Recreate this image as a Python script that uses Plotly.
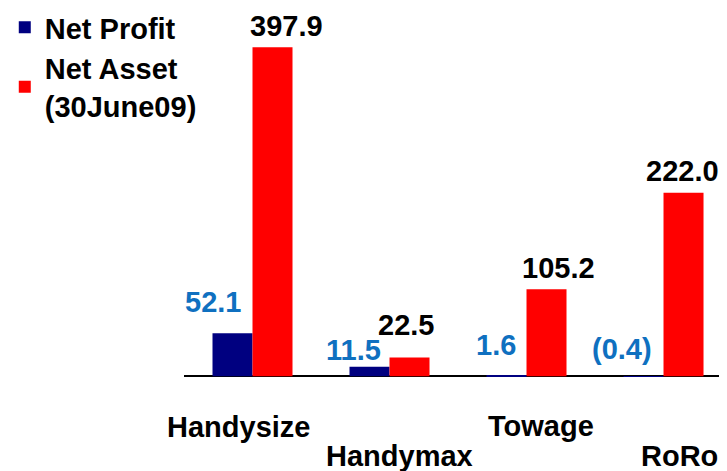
import plotly.graph_objects as go

categories = ["Handysize", "Handymax", "Towage", "RoRo"]
net_profit = [52.1, 11.5, 1.6, -0.4]
net_asset = [397.9, 22.5, 105.2, 222.0]
series_names = ["Net Profit", "Net Asset<br>(30June09)"]

NAVY = "#000080"
RED = "#FF0000"
LABEL_BLUE = "#0F70C0"
FONT = "Liberation Sans, Arial, sans-serif"
FS = 29

def fmt(v):
    return f"({abs(v):.1f})" if v < 0 else f"{v:.1f}"

fig = go.Figure()
fig.add_trace(go.Bar(x=categories, y=net_profit, name=series_names[0],
                     marker=dict(color=NAVY, line=dict(width=0)), legendgroup="a"))
fig.add_trace(go.Bar(x=categories, y=net_asset, name=series_names[1],
                     marker=dict(color=RED, line=dict(width=0)), legendgroup="b"))

annotations = []
# data labels (bar-centre offset +/-20px, then label nudges)
blue_dx = [-20, -16, -11, -22]
blue_gap = [13, -1, 12, 9]
red_dx = [14, -4, 12, -1]
red_gap = [3, 15, 3, 4]
for i, (cat, p, a) in enumerate(zip(categories, net_profit, net_asset)):
    annotations.append(dict(x=cat, y=max(p, 0), xref="x", yref="y", text=fmt(p),
                            showarrow=False, yanchor="bottom", xanchor="center",
                            xshift=-20 + blue_dx[i], yshift=blue_gap[i],
                            font=dict(family=FONT, size=FS, color=LABEL_BLUE, weight="bold")))
    annotations.append(dict(x=cat, y=max(a, 0), xref="x", yref="y", text=fmt(a),
                            showarrow=False, yanchor="bottom", xanchor="center",
                            xshift=20 + red_dx[i], yshift=red_gap[i],
                            font=dict(family=FONT, size=FS, color="black", weight="bold")))

# staggered category labels
cat_dx = [-14, 10, 14, 16]
cat_dy = [-8, -37, -7, -37]
for i, cat in enumerate(categories):
    annotations.append(dict(x=cat, y=0, xref="x", yref="paper", text=cat,
                            showarrow=False, yanchor="top", xanchor="center",
                            xshift=cat_dx[i], yshift=cat_dy[i],
                            font=dict(family=FONT, size=FS, color="black", weight="bold")))

fig.update_layout(
    width=711, height=463,
    margin=dict(l=176, r=0, t=21, b=70, pad=0, autoexpand=False),
    paper_bgcolor="white", plot_bgcolor="white",
    barmode="group", bargap=0.416, bargroupgap=0,
    showlegend=True,
    legend=dict(xref="paper", yref="paper", x=-0.335, y=1.073,
                xanchor="left", yanchor="top", bgcolor="rgba(0,0,0,0)",
                font=dict(family=FONT, size=FS, color="black", weight="bold"),
                traceorder="normal", tracegroupgap=4),
    xaxis=dict(range=[-0.5, 3.405], showticklabels=False, showgrid=False,
               showline=False, zeroline=False, ticks=""),
    yaxis=dict(range=[-30, 420], showticklabels=False, showgrid=False,
               showline=False, zeroline=True, zerolinecolor="black",
               zerolinewidth=2, ticks=""),
    annotations=annotations,
    font=dict(family=FONT),
)

fig.write_html("out.html")
